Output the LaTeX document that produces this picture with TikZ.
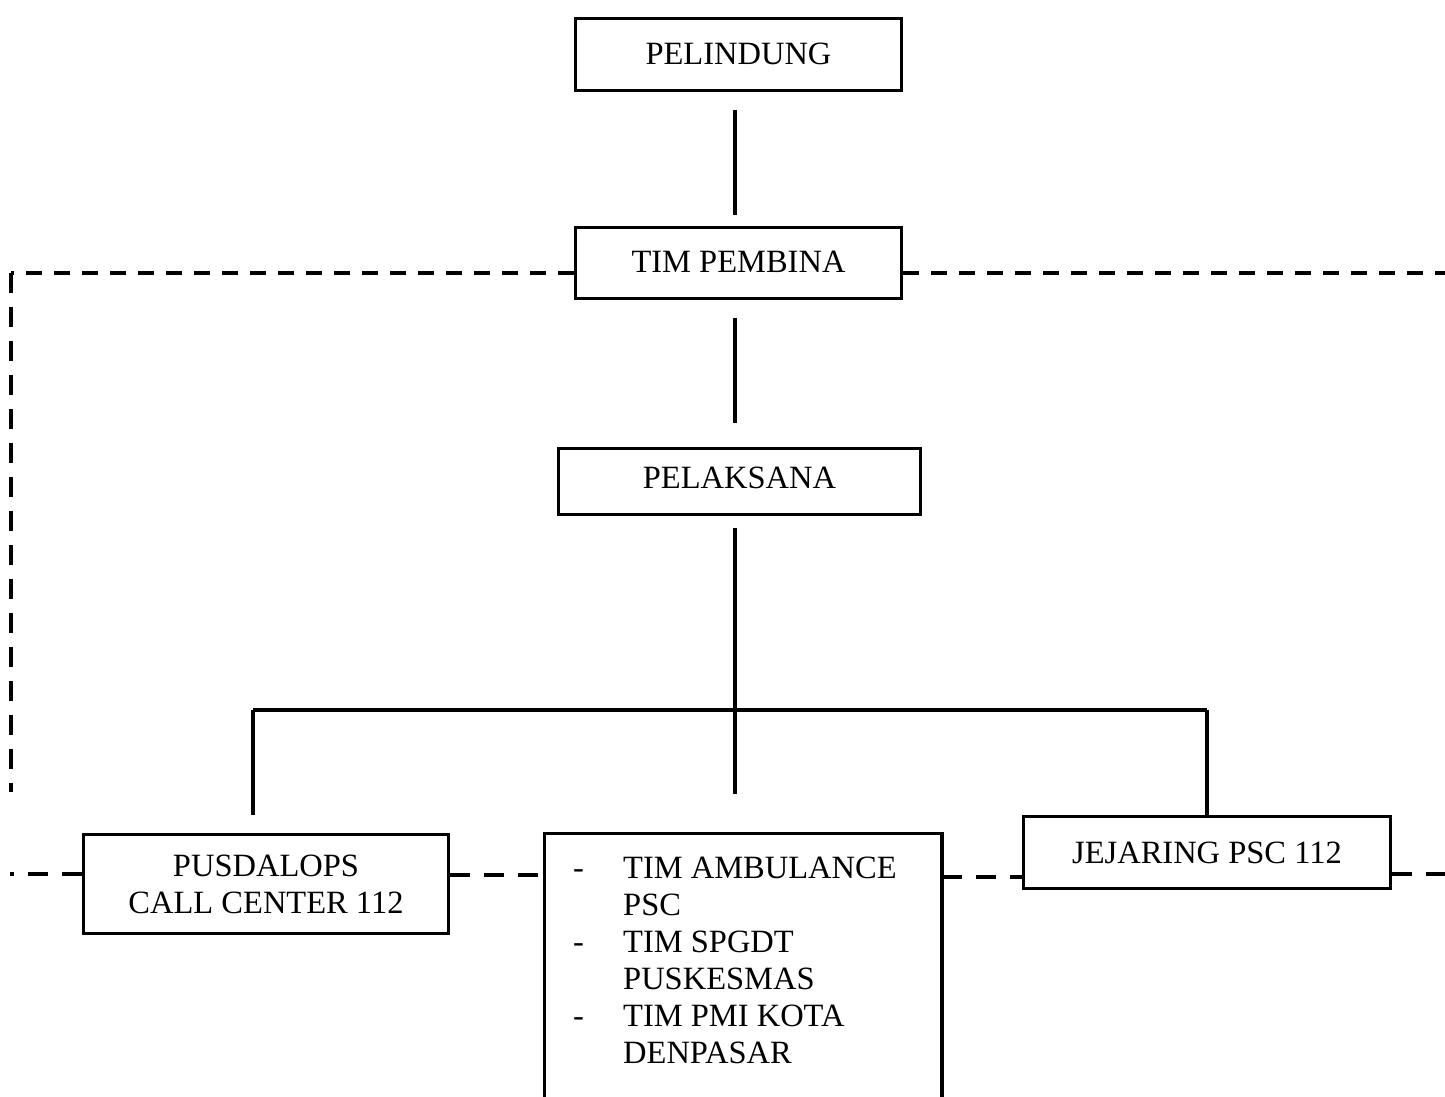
\documentclass[tikz,border=0pt]{standalone}
\usepackage{fontspec}
\setmainfont{Liberation Serif}
\begin{document}
\begin{tikzpicture}[x=1pt,y=-1pt,
  box/.style={draw,line width=3.2pt,inner sep=0pt,align=center,font=\fontsize{32.5}{37}\selectfont},
  conn/.style={line width=3.2pt},
  dashh/.style={line width=3.2pt,dash pattern=on 16pt off 12pt},
  dashv/.style={line width=3.2pt,dash pattern=on 20pt off 14pt}]
\useasboundingbox (0,0) rectangle (1445,1097);
% boxes
\node[box,minimum width=326pt,minimum height=72pt] (pelindung) at (738.5,54.5) {\raisebox{2pt}{PELINDUNG}};
\node[box,minimum width=326pt,minimum height=71pt] (pembina) at (738.5,263) {\raisebox{2pt}{TIM PEMBINA}};
\node[box,minimum width=362pt,minimum height=66pt] (pelaksana) at (739.5,481.5) {\raisebox{8pt}{PELAKSANA}};
\node[box,minimum width=365pt,minimum height=99pt] (pus) at (266,884) {PUSDALOPS\\CALL CENTER 112};
\node[box,minimum width=367pt,minimum height=72pt] (jej) at (1207,852.5) {JEJARING PSC 112};
\node[inner sep=0pt,minimum width=397pt,minimum height=270pt,anchor=north west] (tim) at (544.5,833.5) {};
\draw[line width=3.2pt] (tim.south west) -- (tim.north west) -- (tim.north east) -- (tim.south east);
\node[inner sep=0pt,anchor=base west,font=\fontsize{32.5}{37}\selectfont] (timtxt) at (573,878)
  {\begin{tabular}[t]{@{}p{50pt}@{}l@{}}
   - & TIM AMBULANCE\\
     & PSC\\
   - & TIM SPGDT\\
     & PUSKESMAS\\
   - & TIM PMI KOTA\\
     & DENPASAR
   \end{tabular}};
% solid connectors
\coordinate (spine) at (735,0);
\coordinate (bl) at (253,710);
\coordinate (br) at (1207,710);
\draw[conn,shorten <=18pt,shorten >=11pt] (pelindung.south -| spine) -- (pembina.north -| spine);
\draw[conn,shorten <=18pt,shorten >=24pt] (pembina.south -| spine) -- (pelaksana.north -| spine);
\draw[conn,shorten <=12pt,shorten >=40pt] (pelaksana.south -| spine) -- (tim.north -| spine);
\draw[conn] (bl) -- (br);
\draw[conn,shorten >=18pt] (bl) -- (bl |- pus.north);
\draw[conn] (br) -- (jej.north);
% dashed connectors
\coordinate (dl) at (11,273);
\coordinate (dlb) at (11,792);
\coordinate (dr) at (1445,273);
\draw[dashh] (pembina.west |- dl) -- (dl);
\draw[dashv] (dl) -- (dlb);
\draw[dashh] (pembina.east |- dr) -- (dr);
\coordinate (el) at (10,874);
\coordinate (er) at (1445,874);
\draw[dashv] (pus.west |- el) -- (el);
\draw[dashv] (pus.east |- 0,875) -- (tim.west |- 0,875);
\draw[dashv] (tim.east |- 0,877) -- (jej.west |- 0,877);
\draw[dashv] (jej.east |- er) -- (er);
\end{tikzpicture}
\end{document}
